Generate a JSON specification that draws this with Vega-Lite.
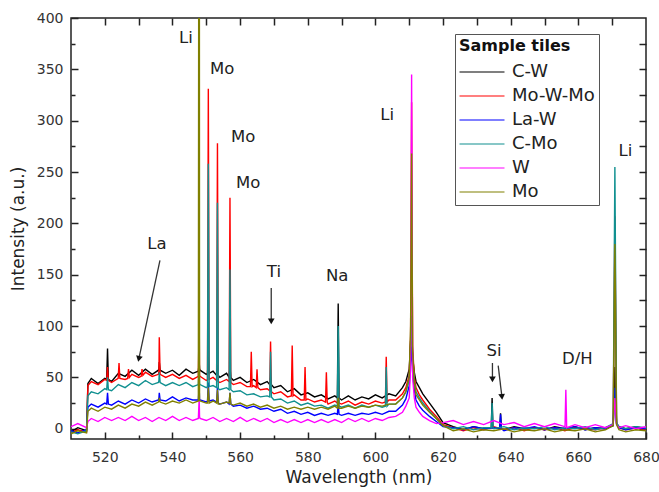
{
"$schema":"https://vega.github.io/schema/vega-lite/v6.json",
"width":575,"height":421,
"autosize":{"type":"none"},
"padding":{"left":71,"top":18,"right":13,"bottom":53},
"background":"white",
"config":{"view":{"stroke":"#222","strokeWidth":1.5},"font":"DejaVu Sans"},
"datasets":{
"spec":[
{"s":"C-W","x":510,"y":-3},{"s":"C-W","x":512,"y":1},{"s":"C-W","x":514.6,"y":-2},{"s":"C-W","x":515,"y":44},{"s":"C-W","x":516,"y":49},{"s":"C-W","x":518,"y":44},{"s":"C-W","x":520,"y":49},{"s":"C-W","x":520.55,"y":48},{"s":"C-W","x":520.8,"y":78},{"s":"C-W","x":521.05,"y":48},{"s":"C-W","x":522,"y":46},{"s":"C-W","x":524,"y":54},{"s":"C-W","x":526,"y":51},{"s":"C-W","x":528,"y":57},{"s":"C-W","x":530,"y":52},{"s":"C-W","x":532,"y":58},{"s":"C-W","x":534,"y":53},{"s":"C-W","x":535.85,"y":57},{"s":"C-W","x":536,"y":59},{"s":"C-W","x":536.1,"y":65},{"s":"C-W","x":536.35,"y":57},{"s":"C-W","x":538,"y":54},{"s":"C-W","x":540,"y":57},{"s":"C-W","x":542,"y":52},{"s":"C-W","x":544,"y":58},{"s":"C-W","x":546,"y":54},{"s":"C-W","x":547.65,"y":56},{"s":"C-W","x":547.9,"y":65},{"s":"C-W","x":548,"y":59},{"s":"C-W","x":548.15,"y":57},{"s":"C-W","x":550,"y":53},{"s":"C-W","x":550.35,"y":54},{"s":"C-W","x":550.6,"y":70},{"s":"C-W","x":550.85,"y":54},{"s":"C-W","x":552,"y":56},{"s":"C-W","x":553.05,"y":52},{"s":"C-W","x":553.3,"y":62},{"s":"C-W","x":553.55,"y":52},{"s":"C-W","x":554,"y":50},{"s":"C-W","x":556,"y":54},{"s":"C-W","x":556.75,"y":50},{"s":"C-W","x":557,"y":60},{"s":"C-W","x":557.25,"y":50},{"s":"C-W","x":558,"y":47},{"s":"C-W","x":560,"y":50},{"s":"C-W","x":562,"y":45},{"s":"C-W","x":564,"y":48},{"s":"C-W","x":566,"y":43},{"s":"C-W","x":568,"y":46},{"s":"C-W","x":568.75,"y":43},{"s":"C-W","x":569,"y":50},{"s":"C-W","x":569.25,"y":43},{"s":"C-W","x":570,"y":40},{"s":"C-W","x":572,"y":42},{"s":"C-W","x":574,"y":36},{"s":"C-W","x":576,"y":39},{"s":"C-W","x":578,"y":33},{"s":"C-W","x":580,"y":35},{"s":"C-W","x":582,"y":31},{"s":"C-W","x":584,"y":33},{"s":"C-W","x":586,"y":29},{"s":"C-W","x":588,"y":32},{"s":"C-W","x":588.75,"y":30},{"s":"C-W","x":589,"y":122},{"s":"C-W","x":589.25,"y":30},{"s":"C-W","x":590,"y":28},{"s":"C-W","x":592,"y":32},{"s":"C-W","x":594,"y":28},{"s":"C-W","x":596,"y":31},{"s":"C-W","x":598,"y":29},{"s":"C-W","x":600,"y":33},{"s":"C-W","x":602,"y":30},{"s":"C-W","x":604,"y":34},{"s":"C-W","x":606,"y":32},{"s":"C-W","x":608,"y":40},{"s":"C-W","x":609,"y":46},{"s":"C-W","x":610,"y":58},{"s":"C-W","x":610.4,"y":85},{"s":"C-W","x":610.7,"y":95},{"s":"C-W","x":611,"y":70},{"s":"C-W","x":611.5,"y":55},{"s":"C-W","x":612,"y":46},{"s":"C-W","x":613,"y":40},{"s":"C-W","x":614,"y":34},{"s":"C-W","x":616,"y":25},{"s":"C-W","x":618,"y":16},{"s":"C-W","x":620,"y":6},{"s":"C-W","x":623,"y":2},{"s":"C-W","x":626,"y":-1},{"s":"C-W","x":629,"y":2},{"s":"C-W","x":632,"y":0},{"s":"C-W","x":634.25,"y":1},{"s":"C-W","x":634.5,"y":30},{"s":"C-W","x":634.75,"y":1},{"s":"C-W","x":635,"y":1},{"s":"C-W","x":636.75,"y":0},{"s":"C-W","x":637,"y":15},{"s":"C-W","x":637.25,"y":0},{"s":"C-W","x":638,"y":-1},{"s":"C-W","x":641,"y":2},{"s":"C-W","x":644,"y":0},{"s":"C-W","x":647,"y":1},{"s":"C-W","x":650,"y":-1},{"s":"C-W","x":653,"y":2},{"s":"C-W","x":656,"y":0},{"s":"C-W","x":659,"y":2},{"s":"C-W","x":662,"y":-1},{"s":"C-W","x":665,"y":1},{"s":"C-W","x":668,"y":0},{"s":"C-W","x":670.3,"y":3},{"s":"C-W","x":670.8,"y":60},{"s":"C-W","x":671.3,"y":5},{"s":"C-W","x":672,"y":2},{"s":"C-W","x":674,"y":0},{"s":"C-W","x":677,"y":2},{"s":"C-W","x":680,"y":0},
{"s":"Mo-W-Mo","x":510,"y":-4},{"s":"Mo-W-Mo","x":512,"y":-1},{"s":"Mo-W-Mo","x":514.6,"y":-3},{"s":"Mo-W-Mo","x":515,"y":42},{"s":"Mo-W-Mo","x":516,"y":46},{"s":"Mo-W-Mo","x":518,"y":43},{"s":"Mo-W-Mo","x":520,"y":48},{"s":"Mo-W-Mo","x":520.55,"y":47},{"s":"Mo-W-Mo","x":520.8,"y":60},{"s":"Mo-W-Mo","x":521.05,"y":47},{"s":"Mo-W-Mo","x":522,"y":45},{"s":"Mo-W-Mo","x":523.95,"y":49},{"s":"Mo-W-Mo","x":524,"y":52},{"s":"Mo-W-Mo","x":524.2,"y":64},{"s":"Mo-W-Mo","x":524.45,"y":49},{"s":"Mo-W-Mo","x":526,"y":48},{"s":"Mo-W-Mo","x":526.75,"y":49},{"s":"Mo-W-Mo","x":527,"y":58},{"s":"Mo-W-Mo","x":527.25,"y":50},{"s":"Mo-W-Mo","x":528,"y":53},{"s":"Mo-W-Mo","x":530,"y":50},{"s":"Mo-W-Mo","x":530.75,"y":51},{"s":"Mo-W-Mo","x":531,"y":58},{"s":"Mo-W-Mo","x":531.25,"y":52},{"s":"Mo-W-Mo","x":532,"y":55},{"s":"Mo-W-Mo","x":534,"y":51},{"s":"Mo-W-Mo","x":535.85,"y":53},{"s":"Mo-W-Mo","x":536,"y":56},{"s":"Mo-W-Mo","x":536.1,"y":89},{"s":"Mo-W-Mo","x":536.35,"y":53},{"s":"Mo-W-Mo","x":538,"y":50},{"s":"Mo-W-Mo","x":540,"y":53},{"s":"Mo-W-Mo","x":542,"y":49},{"s":"Mo-W-Mo","x":544,"y":52},{"s":"Mo-W-Mo","x":546,"y":48},{"s":"Mo-W-Mo","x":547.65,"y":51},{"s":"Mo-W-Mo","x":547.9,"y":108},{"s":"Mo-W-Mo","x":548,"y":52},{"s":"Mo-W-Mo","x":548.15,"y":51},{"s":"Mo-W-Mo","x":550,"y":47},{"s":"Mo-W-Mo","x":550.35,"y":48},{"s":"Mo-W-Mo","x":550.6,"y":331},{"s":"Mo-W-Mo","x":550.85,"y":48},{"s":"Mo-W-Mo","x":552,"y":50},{"s":"Mo-W-Mo","x":553.05,"y":47},{"s":"Mo-W-Mo","x":553.3,"y":278},{"s":"Mo-W-Mo","x":553.55,"y":46},{"s":"Mo-W-Mo","x":554,"y":45},{"s":"Mo-W-Mo","x":556,"y":48},{"s":"Mo-W-Mo","x":556.75,"y":46},{"s":"Mo-W-Mo","x":557,"y":225},{"s":"Mo-W-Mo","x":557.25,"y":45},{"s":"Mo-W-Mo","x":558,"y":43},{"s":"Mo-W-Mo","x":560,"y":45},{"s":"Mo-W-Mo","x":562,"y":41},{"s":"Mo-W-Mo","x":563.05,"y":41},{"s":"Mo-W-Mo","x":563.3,"y":75},{"s":"Mo-W-Mo","x":563.55,"y":41},{"s":"Mo-W-Mo","x":564,"y":42},{"s":"Mo-W-Mo","x":564.75,"y":40},{"s":"Mo-W-Mo","x":565,"y":58},{"s":"Mo-W-Mo","x":565.25,"y":40},{"s":"Mo-W-Mo","x":566,"y":38},{"s":"Mo-W-Mo","x":568,"y":39},{"s":"Mo-W-Mo","x":568.75,"y":37},{"s":"Mo-W-Mo","x":569,"y":85},{"s":"Mo-W-Mo","x":569.25,"y":36},{"s":"Mo-W-Mo","x":570,"y":34},{"s":"Mo-W-Mo","x":572,"y":36},{"s":"Mo-W-Mo","x":574,"y":31},{"s":"Mo-W-Mo","x":575.15,"y":32},{"s":"Mo-W-Mo","x":575.4,"y":81},{"s":"Mo-W-Mo","x":575.65,"y":32},{"s":"Mo-W-Mo","x":576,"y":33},{"s":"Mo-W-Mo","x":578,"y":28},{"s":"Mo-W-Mo","x":578.95,"y":28},{"s":"Mo-W-Mo","x":579.2,"y":60},{"s":"Mo-W-Mo","x":579.45,"y":28},{"s":"Mo-W-Mo","x":580,"y":29},{"s":"Mo-W-Mo","x":582,"y":26},{"s":"Mo-W-Mo","x":584,"y":28},{"s":"Mo-W-Mo","x":585.25,"y":26},{"s":"Mo-W-Mo","x":585.5,"y":55},{"s":"Mo-W-Mo","x":585.75,"y":26},{"s":"Mo-W-Mo","x":586,"y":24},{"s":"Mo-W-Mo","x":588,"y":27},{"s":"Mo-W-Mo","x":588.75,"y":25},{"s":"Mo-W-Mo","x":589,"y":50},{"s":"Mo-W-Mo","x":589.25,"y":25},{"s":"Mo-W-Mo","x":590,"y":24},{"s":"Mo-W-Mo","x":592,"y":27},{"s":"Mo-W-Mo","x":594,"y":23},{"s":"Mo-W-Mo","x":596,"y":26},{"s":"Mo-W-Mo","x":598,"y":24},{"s":"Mo-W-Mo","x":600,"y":27},{"s":"Mo-W-Mo","x":602,"y":25},{"s":"Mo-W-Mo","x":602.95,"y":26},{"s":"Mo-W-Mo","x":603.2,"y":70},{"s":"Mo-W-Mo","x":603.45,"y":26},{"s":"Mo-W-Mo","x":604,"y":28},{"s":"Mo-W-Mo","x":606,"y":28},{"s":"Mo-W-Mo","x":608,"y":34},{"s":"Mo-W-Mo","x":609,"y":40},{"s":"Mo-W-Mo","x":610,"y":52},{"s":"Mo-W-Mo","x":610.4,"y":90},{"s":"Mo-W-Mo","x":610.7,"y":318},{"s":"Mo-W-Mo","x":611,"y":80},{"s":"Mo-W-Mo","x":611.5,"y":50},{"s":"Mo-W-Mo","x":612,"y":40},{"s":"Mo-W-Mo","x":613,"y":33},{"s":"Mo-W-Mo","x":614,"y":28},{"s":"Mo-W-Mo","x":616,"y":19},{"s":"Mo-W-Mo","x":618,"y":12},{"s":"Mo-W-Mo","x":620,"y":4},{"s":"Mo-W-Mo","x":623,"y":1},{"s":"Mo-W-Mo","x":626,"y":-2},{"s":"Mo-W-Mo","x":629,"y":1},{"s":"Mo-W-Mo","x":632,"y":-1},{"s":"Mo-W-Mo","x":635,"y":2},{"s":"Mo-W-Mo","x":638,"y":-1},{"s":"Mo-W-Mo","x":641,"y":1},{"s":"Mo-W-Mo","x":644,"y":-2},{"s":"Mo-W-Mo","x":647,"y":1},{"s":"Mo-W-Mo","x":650,"y":-1},{"s":"Mo-W-Mo","x":653,"y":1},{"s":"Mo-W-Mo","x":656,"y":-2},{"s":"Mo-W-Mo","x":659,"y":1},{"s":"Mo-W-Mo","x":662,"y":0},{"s":"Mo-W-Mo","x":665,"y":-1},{"s":"Mo-W-Mo","x":668,"y":1},{"s":"Mo-W-Mo","x":670.3,"y":4},{"s":"Mo-W-Mo","x":670.8,"y":207},{"s":"Mo-W-Mo","x":671.3,"y":5},{"s":"Mo-W-Mo","x":672,"y":1},{"s":"Mo-W-Mo","x":674,"y":-1},{"s":"Mo-W-Mo","x":677,"y":1},{"s":"Mo-W-Mo","x":680,"y":-1},
{"s":"La-W","x":510,"y":-2},{"s":"La-W","x":512,"y":-4},{"s":"La-W","x":514.6,"y":-1},{"s":"La-W","x":515,"y":21},{"s":"La-W","x":516,"y":24},{"s":"La-W","x":518,"y":21},{"s":"La-W","x":520,"y":25},{"s":"La-W","x":520.55,"y":24},{"s":"La-W","x":520.8,"y":35},{"s":"La-W","x":521.05,"y":24},{"s":"La-W","x":522,"y":23},{"s":"La-W","x":524,"y":27},{"s":"La-W","x":526,"y":24},{"s":"La-W","x":528,"y":28},{"s":"La-W","x":530,"y":25},{"s":"La-W","x":532,"y":29},{"s":"La-W","x":534,"y":26},{"s":"La-W","x":535.85,"y":28},{"s":"La-W","x":536,"y":30},{"s":"La-W","x":536.1,"y":35},{"s":"La-W","x":536.35,"y":28},{"s":"La-W","x":538,"y":27},{"s":"La-W","x":540,"y":31},{"s":"La-W","x":542,"y":27},{"s":"La-W","x":544,"y":30},{"s":"La-W","x":546,"y":28},{"s":"La-W","x":547.65,"y":28},{"s":"La-W","x":547.9,"y":40},{"s":"La-W","x":548,"y":29},{"s":"La-W","x":548.15,"y":28},{"s":"La-W","x":550,"y":26},{"s":"La-W","x":550.35,"y":27},{"s":"La-W","x":550.6,"y":45},{"s":"La-W","x":550.85,"y":27},{"s":"La-W","x":552,"y":28},{"s":"La-W","x":553.05,"y":26},{"s":"La-W","x":553.3,"y":40},{"s":"La-W","x":553.55,"y":25},{"s":"La-W","x":554,"y":24},{"s":"La-W","x":556,"y":26},{"s":"La-W","x":556.75,"y":24},{"s":"La-W","x":557,"y":35},{"s":"La-W","x":557.25,"y":24},{"s":"La-W","x":558,"y":22},{"s":"La-W","x":560,"y":23},{"s":"La-W","x":562,"y":20},{"s":"La-W","x":564,"y":22},{"s":"La-W","x":566,"y":19},{"s":"La-W","x":568,"y":20},{"s":"La-W","x":570,"y":17},{"s":"La-W","x":572,"y":19},{"s":"La-W","x":574,"y":15},{"s":"La-W","x":576,"y":17},{"s":"La-W","x":578,"y":14},{"s":"La-W","x":580,"y":16},{"s":"La-W","x":582,"y":13},{"s":"La-W","x":584,"y":15},{"s":"La-W","x":586,"y":13},{"s":"La-W","x":588,"y":15},{"s":"La-W","x":588.75,"y":14},{"s":"La-W","x":589,"y":25},{"s":"La-W","x":589.25,"y":14},{"s":"La-W","x":590,"y":13},{"s":"La-W","x":592,"y":15},{"s":"La-W","x":594,"y":13},{"s":"La-W","x":596,"y":15},{"s":"La-W","x":598,"y":14},{"s":"La-W","x":600,"y":16},{"s":"La-W","x":602,"y":14},{"s":"La-W","x":604,"y":17},{"s":"La-W","x":606,"y":17},{"s":"La-W","x":608,"y":23},{"s":"La-W","x":609,"y":29},{"s":"La-W","x":610,"y":42},{"s":"La-W","x":610.4,"y":65},{"s":"La-W","x":610.7,"y":80},{"s":"La-W","x":611,"y":55},{"s":"La-W","x":611.5,"y":38},{"s":"La-W","x":612,"y":28},{"s":"La-W","x":613,"y":22},{"s":"La-W","x":614,"y":18},{"s":"La-W","x":616,"y":12},{"s":"La-W","x":618,"y":7},{"s":"La-W","x":620,"y":2},{"s":"La-W","x":623,"y":1},{"s":"La-W","x":626,"y":-1},{"s":"La-W","x":629,"y":2},{"s":"La-W","x":632,"y":0},{"s":"La-W","x":635,"y":1},{"s":"La-W","x":636.75,"y":0},{"s":"La-W","x":637,"y":14},{"s":"La-W","x":637.25,"y":0},{"s":"La-W","x":638,"y":-2},{"s":"La-W","x":641,"y":1},{"s":"La-W","x":644,"y":0},{"s":"La-W","x":647,"y":2},{"s":"La-W","x":650,"y":-1},{"s":"La-W","x":653,"y":1},{"s":"La-W","x":656,"y":0},{"s":"La-W","x":659,"y":2},{"s":"La-W","x":662,"y":-1},{"s":"La-W","x":665,"y":1},{"s":"La-W","x":668,"y":0},{"s":"La-W","x":670.3,"y":4},{"s":"La-W","x":670.8,"y":40},{"s":"La-W","x":671.3,"y":5},{"s":"La-W","x":672,"y":1},{"s":"La-W","x":674,"y":-1},{"s":"La-W","x":677,"y":1},{"s":"La-W","x":680,"y":0},
{"s":"C-Mo","x":510,"y":-3},{"s":"C-Mo","x":512,"y":-5},{"s":"C-Mo","x":514.6,"y":-2},{"s":"C-Mo","x":515,"y":32},{"s":"C-Mo","x":516,"y":36},{"s":"C-Mo","x":518,"y":34},{"s":"C-Mo","x":520,"y":39},{"s":"C-Mo","x":520.55,"y":38},{"s":"C-Mo","x":520.8,"y":50},{"s":"C-Mo","x":521.05,"y":38},{"s":"C-Mo","x":522,"y":37},{"s":"C-Mo","x":524,"y":43},{"s":"C-Mo","x":526,"y":40},{"s":"C-Mo","x":528,"y":45},{"s":"C-Mo","x":530,"y":42},{"s":"C-Mo","x":532,"y":47},{"s":"C-Mo","x":534,"y":43},{"s":"C-Mo","x":535.85,"y":45},{"s":"C-Mo","x":536,"y":47},{"s":"C-Mo","x":536.1,"y":55},{"s":"C-Mo","x":536.35,"y":45},{"s":"C-Mo","x":538,"y":42},{"s":"C-Mo","x":540,"y":45},{"s":"C-Mo","x":542,"y":42},{"s":"C-Mo","x":544,"y":45},{"s":"C-Mo","x":546,"y":41},{"s":"C-Mo","x":547.65,"y":43},{"s":"C-Mo","x":547.9,"y":60},{"s":"C-Mo","x":548,"y":44},{"s":"C-Mo","x":548.15,"y":43},{"s":"C-Mo","x":550,"y":40},{"s":"C-Mo","x":550.35,"y":41},{"s":"C-Mo","x":550.6,"y":258},{"s":"C-Mo","x":550.85,"y":41},{"s":"C-Mo","x":552,"y":42},{"s":"C-Mo","x":553.05,"y":40},{"s":"C-Mo","x":553.3,"y":220},{"s":"C-Mo","x":553.55,"y":39},{"s":"C-Mo","x":554,"y":38},{"s":"C-Mo","x":556,"y":40},{"s":"C-Mo","x":556.75,"y":38},{"s":"C-Mo","x":557,"y":155},{"s":"C-Mo","x":557.25,"y":38},{"s":"C-Mo","x":558,"y":36},{"s":"C-Mo","x":560,"y":37},{"s":"C-Mo","x":562,"y":33},{"s":"C-Mo","x":564,"y":34},{"s":"C-Mo","x":566,"y":31},{"s":"C-Mo","x":568,"y":32},{"s":"C-Mo","x":568.75,"y":31},{"s":"C-Mo","x":569,"y":75},{"s":"C-Mo","x":569.25,"y":31},{"s":"C-Mo","x":570,"y":28},{"s":"C-Mo","x":572,"y":29},{"s":"C-Mo","x":574,"y":25},{"s":"C-Mo","x":576,"y":27},{"s":"C-Mo","x":578,"y":23},{"s":"C-Mo","x":580,"y":25},{"s":"C-Mo","x":582,"y":22},{"s":"C-Mo","x":584,"y":23},{"s":"C-Mo","x":586,"y":20},{"s":"C-Mo","x":588,"y":23},{"s":"C-Mo","x":588.75,"y":22},{"s":"C-Mo","x":589,"y":100},{"s":"C-Mo","x":589.25,"y":22},{"s":"C-Mo","x":590,"y":21},{"s":"C-Mo","x":592,"y":23},{"s":"C-Mo","x":594,"y":20},{"s":"C-Mo","x":596,"y":23},{"s":"C-Mo","x":598,"y":21},{"s":"C-Mo","x":600,"y":23},{"s":"C-Mo","x":602,"y":21},{"s":"C-Mo","x":602.95,"y":22},{"s":"C-Mo","x":603.2,"y":60},{"s":"C-Mo","x":603.45,"y":22},{"s":"C-Mo","x":604,"y":24},{"s":"C-Mo","x":606,"y":24},{"s":"C-Mo","x":608,"y":30},{"s":"C-Mo","x":609,"y":36},{"s":"C-Mo","x":610,"y":48},{"s":"C-Mo","x":610.4,"y":80},{"s":"C-Mo","x":610.7,"y":110},{"s":"C-Mo","x":611,"y":70},{"s":"C-Mo","x":611.5,"y":46},{"s":"C-Mo","x":612,"y":36},{"s":"C-Mo","x":613,"y":30},{"s":"C-Mo","x":614,"y":25},{"s":"C-Mo","x":616,"y":17},{"s":"C-Mo","x":618,"y":10},{"s":"C-Mo","x":620,"y":3},{"s":"C-Mo","x":623,"y":0},{"s":"C-Mo","x":626,"y":2},{"s":"C-Mo","x":629,"y":-1},{"s":"C-Mo","x":632,"y":1},{"s":"C-Mo","x":634.25,"y":1},{"s":"C-Mo","x":634.5,"y":25},{"s":"C-Mo","x":634.75,"y":1},{"s":"C-Mo","x":635,"y":0},{"s":"C-Mo","x":638,"y":2},{"s":"C-Mo","x":641,"y":-1},{"s":"C-Mo","x":644,"y":1},{"s":"C-Mo","x":647,"y":0},{"s":"C-Mo","x":650,"y":2},{"s":"C-Mo","x":653,"y":-1},{"s":"C-Mo","x":656,"y":1},{"s":"C-Mo","x":659,"y":0},{"s":"C-Mo","x":662,"y":2},{"s":"C-Mo","x":665,"y":-1},{"s":"C-Mo","x":668,"y":1},{"s":"C-Mo","x":670.3,"y":5},{"s":"C-Mo","x":670.8,"y":255},{"s":"C-Mo","x":671.3,"y":6},{"s":"C-Mo","x":672,"y":2},{"s":"C-Mo","x":674,"y":0},{"s":"C-Mo","x":677,"y":2},{"s":"C-Mo","x":680,"y":1},
{"s":"W","x":510,"y":2},{"s":"W","x":512,"y":5},{"s":"W","x":514.6,"y":1},{"s":"W","x":515,"y":7},{"s":"W","x":516,"y":10},{"s":"W","x":518,"y":7},{"s":"W","x":520,"y":11},{"s":"W","x":522,"y":8},{"s":"W","x":524,"y":11},{"s":"W","x":526,"y":8},{"s":"W","x":528,"y":12},{"s":"W","x":530,"y":8},{"s":"W","x":532,"y":11},{"s":"W","x":534,"y":7},{"s":"W","x":536,"y":11},{"s":"W","x":538,"y":8},{"s":"W","x":540,"y":12},{"s":"W","x":542,"y":8},{"s":"W","x":544,"y":11},{"s":"W","x":546,"y":8},{"s":"W","x":547.65,"y":10},{"s":"W","x":547.9,"y":30},{"s":"W","x":548,"y":12},{"s":"W","x":548.15,"y":10},{"s":"W","x":550,"y":8},{"s":"W","x":552,"y":11},{"s":"W","x":554,"y":7},{"s":"W","x":556,"y":10},{"s":"W","x":558,"y":7},{"s":"W","x":560,"y":11},{"s":"W","x":562,"y":7},{"s":"W","x":564,"y":10},{"s":"W","x":566,"y":7},{"s":"W","x":568,"y":10},{"s":"W","x":570,"y":6},{"s":"W","x":572,"y":9},{"s":"W","x":574,"y":6},{"s":"W","x":576,"y":9},{"s":"W","x":578,"y":6},{"s":"W","x":580,"y":9},{"s":"W","x":582,"y":6},{"s":"W","x":584,"y":9},{"s":"W","x":586,"y":6},{"s":"W","x":588,"y":9},{"s":"W","x":590,"y":6},{"s":"W","x":592,"y":10},{"s":"W","x":594,"y":7},{"s":"W","x":596,"y":10},{"s":"W","x":598,"y":7},{"s":"W","x":600,"y":10},{"s":"W","x":602,"y":8},{"s":"W","x":604,"y":11},{"s":"W","x":606,"y":12},{"s":"W","x":608,"y":16},{"s":"W","x":609,"y":22},{"s":"W","x":610,"y":30},{"s":"W","x":610.4,"y":60},{"s":"W","x":610.7,"y":345},{"s":"W","x":611,"y":50},{"s":"W","x":611.5,"y":30},{"s":"W","x":612,"y":21},{"s":"W","x":613,"y":16},{"s":"W","x":614,"y":12},{"s":"W","x":616,"y":8},{"s":"W","x":618,"y":5},{"s":"W","x":620,"y":6},{"s":"W","x":623,"y":8},{"s":"W","x":626,"y":4},{"s":"W","x":629,"y":7},{"s":"W","x":632,"y":4},{"s":"W","x":635,"y":8},{"s":"W","x":638,"y":4},{"s":"W","x":641,"y":6},{"s":"W","x":644,"y":2},{"s":"W","x":647,"y":5},{"s":"W","x":650,"y":2},{"s":"W","x":653,"y":5},{"s":"W","x":656,"y":2},{"s":"W","x":656.05,"y":1},{"s":"W","x":656.3,"y":38},{"s":"W","x":656.55,"y":1},{"s":"W","x":659,"y":4},{"s":"W","x":662,"y":1},{"s":"W","x":665,"y":4},{"s":"W","x":668,"y":1},{"s":"W","x":670.3,"y":4},{"s":"W","x":670.8,"y":30},{"s":"W","x":671.3,"y":4},{"s":"W","x":672,"y":1},{"s":"W","x":674,"y":3},{"s":"W","x":677,"y":0},{"s":"W","x":680,"y":2},
{"s":"Mo","x":510,"y":-5},{"s":"Mo","x":512,"y":-2},{"s":"Mo","x":514.6,"y":-4},{"s":"Mo","x":515,"y":17},{"s":"Mo","x":516,"y":20},{"s":"Mo","x":518,"y":17},{"s":"Mo","x":520,"y":21},{"s":"Mo","x":522,"y":19},{"s":"Mo","x":524,"y":23},{"s":"Mo","x":526,"y":20},{"s":"Mo","x":528,"y":24},{"s":"Mo","x":530,"y":22},{"s":"Mo","x":532,"y":26},{"s":"Mo","x":534,"y":23},{"s":"Mo","x":535.85,"y":26},{"s":"Mo","x":536,"y":27},{"s":"Mo","x":536.1,"y":30},{"s":"Mo","x":536.35,"y":26},{"s":"Mo","x":538,"y":24},{"s":"Mo","x":540,"y":27},{"s":"Mo","x":542,"y":25},{"s":"Mo","x":544,"y":28},{"s":"Mo","x":546,"y":25},{"s":"Mo","x":547.65,"y":27},{"s":"Mo","x":547.9,"y":1000},{"s":"Mo","x":548,"y":28},{"s":"Mo","x":548.15,"y":27},{"s":"Mo","x":550,"y":25},{"s":"Mo","x":550.35,"y":25},{"s":"Mo","x":550.6,"y":40},{"s":"Mo","x":550.85,"y":25},{"s":"Mo","x":552,"y":27},{"s":"Mo","x":553.05,"y":25},{"s":"Mo","x":553.3,"y":38},{"s":"Mo","x":553.55,"y":24},{"s":"Mo","x":554,"y":24},{"s":"Mo","x":556,"y":26},{"s":"Mo","x":556.75,"y":25},{"s":"Mo","x":557,"y":35},{"s":"Mo","x":557.25,"y":24},{"s":"Mo","x":558,"y":23},{"s":"Mo","x":560,"y":25},{"s":"Mo","x":562,"y":22},{"s":"Mo","x":564,"y":24},{"s":"Mo","x":566,"y":21},{"s":"Mo","x":568,"y":23},{"s":"Mo","x":570,"y":20},{"s":"Mo","x":572,"y":22},{"s":"Mo","x":574,"y":19},{"s":"Mo","x":576,"y":21},{"s":"Mo","x":578,"y":19},{"s":"Mo","x":580,"y":21},{"s":"Mo","x":582,"y":19},{"s":"Mo","x":584,"y":21},{"s":"Mo","x":586,"y":19},{"s":"Mo","x":588,"y":22},{"s":"Mo","x":588.75,"y":20},{"s":"Mo","x":589,"y":30},{"s":"Mo","x":589.25,"y":20},{"s":"Mo","x":590,"y":20},{"s":"Mo","x":592,"y":22},{"s":"Mo","x":594,"y":20},{"s":"Mo","x":596,"y":22},{"s":"Mo","x":598,"y":21},{"s":"Mo","x":600,"y":23},{"s":"Mo","x":602,"y":22},{"s":"Mo","x":604,"y":24},{"s":"Mo","x":606,"y":24},{"s":"Mo","x":608,"y":30},{"s":"Mo","x":609,"y":36},{"s":"Mo","x":610,"y":50},{"s":"Mo","x":610.4,"y":100},{"s":"Mo","x":610.7,"y":268},{"s":"Mo","x":611,"y":75},{"s":"Mo","x":611.5,"y":45},{"s":"Mo","x":612,"y":33},{"s":"Mo","x":613,"y":28},{"s":"Mo","x":614,"y":23},{"s":"Mo","x":616,"y":16},{"s":"Mo","x":618,"y":10},{"s":"Mo","x":620,"y":3},{"s":"Mo","x":623,"y":-2},{"s":"Mo","x":626,"y":0},{"s":"Mo","x":629,"y":-3},{"s":"Mo","x":632,"y":-1},{"s":"Mo","x":635,"y":-2},{"s":"Mo","x":638,"y":0},{"s":"Mo","x":641,"y":-3},{"s":"Mo","x":644,"y":-1},{"s":"Mo","x":647,"y":-2},{"s":"Mo","x":650,"y":0},{"s":"Mo","x":653,"y":-3},{"s":"Mo","x":656,"y":-1},{"s":"Mo","x":659,"y":-2},{"s":"Mo","x":662,"y":0},{"s":"Mo","x":665,"y":-3},{"s":"Mo","x":668,"y":-1},{"s":"Mo","x":670.3,"y":3},{"s":"Mo","x":670.8,"y":180},{"s":"Mo","x":671.3,"y":4},{"s":"Mo","x":672,"y":-1},{"s":"Mo","x":674,"y":-3},{"s":"Mo","x":677,"y":-1},{"s":"Mo","x":680,"y":-2}
],
"labels":[
{"t":"Li","x":544,"y":381},{"t":"Mo","x":554.7,"y":350},{"t":"Mo","x":560.9,"y":284},{"t":"Mo","x":562.4,"y":239},{"t":"La","x":535.4,"y":180},{"t":"Ti","x":570,"y":153},{"t":"Na","x":588.7,"y":149},{"t":"Li","x":603.5,"y":306},{"t":"Si","x":635.1,"y":76},{"t":"D/H","x":659.7,"y":68},{"t":"Li","x":673.9,"y":270}
],
"arrows":[
{"n":"La","x":536.3,"y":164,"x2":530.05,"y2":68},
{"n":"Ti","x":569.2,"y":137,"x2":569.2,"y2":104.5},
{"n":"Si1","x":634.6,"y":64,"x2":634.6,"y2":48},
{"n":"Si2","x":636.3,"y":61.5,"x2":637.4,"y2":31}
]
},
"layer":[
{"data":{"name":"spec"},
 "mark":{"type":"line","clip":true,"strokeWidth":1.4},
 "encoding":{
  "x":{"field":"x","type":"quantitative","scale":{"domain":[510,680],"nice":false,"zero":false},
   "axis":{"orient":"bottom","title":"Wavelength (nm)","values":[520,530,540,550,560,570,580,590,600,610,620,630,640,650,660,670,680],
    "labelExpr":"datum.value % 20 === 0 ? datum.label : ''","labelFlush":false,"labelOverlap":false,"domain":false,"grid":false,
    "offset":-7,"tickSize":7,"tickDash":{"condition":{"test":"datum.value % 20 !== 0","value":[0,3,4]},"value":[10,0]},"tickColor":"#222","tickWidth":1.5,
    "labelFontSize":14,"labelColor":"#333","labelPadding":11,"titleFontSize":17,"titleFontWeight":"normal","titleColor":"#222","titlePadding":5}},
  "y":{"field":"y","type":"quantitative","scale":{"domain":[-10,400],"nice":false,"zero":false},
   "axis":{"orient":"left","title":"Intensity (a.u.)","values":[0,25,50,75,100,125,150,175,200,225,250,275,300,325,350,375,400],
    "labelExpr":"datum.value % 50 === 0 ? datum.label : ''","labelFlush":false,"labelOverlap":false,"domain":false,"grid":false,
    "offset":-7,"tickSize":7,"tickDash":{"condition":{"test":"datum.value % 50 !== 0","value":[0,3,4]},"value":[10,0]},"tickColor":"#222","tickWidth":1.5,
    "labelFontSize":14,"labelColor":"#333","labelPadding":8,"titleFontSize":17,"titleFontWeight":"normal","titleColor":"#222","titlePadding":9}},
  "color":{"field":"s","type":"nominal",
   "scale":{"domain":["C-W","Mo-W-Mo","La-W","C-Mo","W","Mo"],"range":["#000000","#ff0000","#0000ff","#109090","#ff00ff","#808000"]},
   "legend":{"orient":"none","legendX":384,"legendY":16,"title":"Sample tiles","titleFontSize":16,"titleFontWeight":"bold","titleColor":"#111","titlePadding":6,
    "labelFontSize":18,"labelColor":"#222","strokeColor":"#555","fillColor":"white","padding":4,
    "symbolType":"M-2,0H2","symbolSize":506,"symbolStrokeWidth":1.2,"symbolOffset":11,"labelOffset":18,"rowPadding":3}}
 }},
{"data":{"name":"labels"},
 "mark":{"type":"text","fontSize":16.5,"font":"DejaVu Sans","color":"#222","align":"center","baseline":"middle"},
 "encoding":{
  "x":{"field":"x","type":"quantitative","scale":{"domain":[510,680],"nice":false,"zero":false},
   "axis":{"orient":"top","title":null,"labels":false,"domain":false,"grid":false,"values":[520,530,540,550,560,570,580,590,600,610,620,630,640,650,660,670],
    "offset":-7,"tickSize":7,"tickColor":"#222","tickWidth":1.5}},
  "y":{"field":"y","type":"quantitative","scale":{"domain":[-10,400],"nice":false,"zero":false},
   "axis":{"orient":"right","title":null,"labels":false,"domain":false,"grid":false,"values":[0,25,50,75,100,125,150,175,200,225,250,275,300,325,350,375],
    "offset":-7,"tickSize":7,"tickColor":"#222","tickWidth":1.5}},
  "text":{"field":"t"}
 }},
{"data":{"name":"arrows"},
 "mark":{"type":"rule","color":"#333","strokeWidth":1.3},
 "encoding":{
  "x":{"field":"x","type":"quantitative","scale":{"domain":[510,680]},"axis":null},
  "y":{"field":"y","type":"quantitative","scale":{"domain":[-10,400]},"axis":null},
  "x2":{"field":"x2"},"y2":{"field":"y2"}
 }},
{"data":{"name":"arrows"},
 "transform":[{"filter":"datum.n === 'Ti' || datum.n === 'Si1'"}],
 "mark":{"type":"point","shape":"triangle-down","filled":true,"color":"#111","size":45,"opacity":1},
 "encoding":{
  "x":{"field":"x2","type":"quantitative","scale":{"domain":[510,680]},"axis":null},
  "y":{"field":"y2","type":"quantitative","scale":{"domain":[-10,400]},"axis":null}
 }},
{"data":{"name":"arrows"},
 "transform":[{"filter":"datum.n === 'La'"}],
 "mark":{"type":"point","shape":"triangle-down","filled":true,"color":"#111","size":45,"opacity":1,"angle":12},
 "encoding":{
  "x":{"field":"x2","type":"quantitative","scale":{"domain":[510,680]},"axis":null},
  "y":{"field":"y2","type":"quantitative","scale":{"domain":[-10,400]},"axis":null}
 }},
{"data":{"name":"arrows"},
 "transform":[{"filter":"datum.n === 'Si2'"}],
 "mark":{"type":"point","shape":"triangle-down","filled":true,"color":"#111","size":45,"opacity":1,"angle":-6},
 "encoding":{
  "x":{"field":"x2","type":"quantitative","scale":{"domain":[510,680]},"axis":null},
  "y":{"field":"y2","type":"quantitative","scale":{"domain":[-10,400]},"axis":null}
 }}
],
"resolve":{"axis":{"x":"independent","y":"independent"}}
}
